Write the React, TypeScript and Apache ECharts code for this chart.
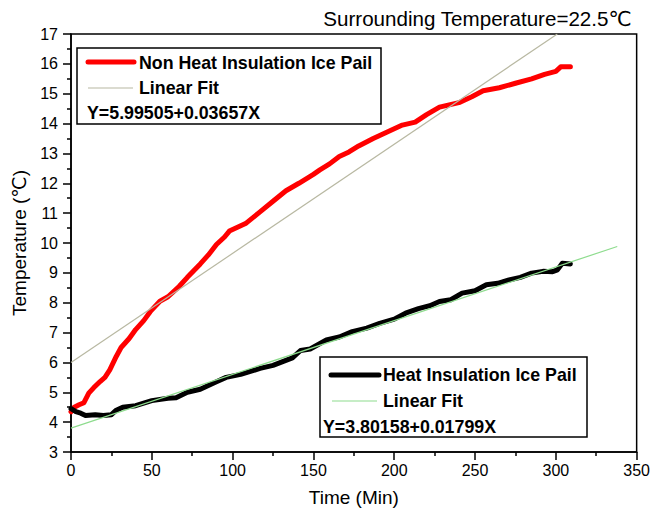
import React, { useEffect, useRef } from "react";
import * as echarts from "echarts";

const xTicks = [0, 50, 100, 150, 200, 250, 300, 350];
const yTicks = [3, 4, 5, 6, 7, 8, 9, 10, 11, 12, 13, 14, 15, 16, 17];

const redTime = [0, 2, 5, 8, 11, 14, 18, 21, 24, 28, 31, 36, 40, 45, 49, 55, 60, 67, 72, 80, 85, 90, 95, 98, 104, 108, 116, 125, 133, 141, 150, 154, 160, 166, 172, 178, 187, 197, 205, 213, 220, 228, 240, 248, 255, 265, 275, 285, 293, 300, 303, 309];
const redTemp = [4.35, 4.5, 4.58, 4.65, 4.97, 5.15, 5.36, 5.5, 5.75, 6.2, 6.5, 6.8, 7.1, 7.4, 7.7, 8.05, 8.2, 8.55, 8.85, 9.3, 9.6, 9.95, 10.2, 10.4, 10.55, 10.65, 11.0, 11.4, 11.75, 12.0, 12.3, 12.45, 12.65, 12.9, 13.05, 13.25, 13.5, 13.75, 13.95, 14.05, 14.3, 14.55, 14.7, 14.9, 15.1, 15.2, 15.35, 15.5, 15.65, 15.75, 15.9, 15.9];

const blackTime = [0, 3, 6, 9, 15, 20, 25, 28, 32, 40, 50, 60, 65, 72, 80, 90, 96, 105, 117, 125, 137, 142, 148, 158, 166, 174, 183, 191, 200, 207, 215, 222, 228, 235, 242, 250, 257, 264, 271, 278, 285, 292, 298, 301, 304, 309];
const blackTemp = [4.45, 4.35, 4.3, 4.22, 4.25, 4.22, 4.25, 4.4, 4.5, 4.55, 4.72, 4.8, 4.82, 5.0, 5.1, 5.35, 5.5, 5.6, 5.8, 5.9, 6.15, 6.4, 6.45, 6.75, 6.85, 7.03, 7.15, 7.31, 7.45, 7.65, 7.8, 7.9, 8.04, 8.1, 8.32, 8.4, 8.6, 8.65, 8.76, 8.85, 8.99, 9.05, 9.04, 9.1, 9.32, 9.3];

const redFitTime = [0, 300.9];
const redFitTemp = [5.995, 17];
const blackFitTime = [0, 338];
const blackFitTemp = [3.8016, 9.882];

const seriesNames = ["Non Heat Insulation Ice Pail", "Heat Insulation Ice Pail"];
const fitName = "Linear Fit";
const redEquation = "Y=5.99505+0.03657X";
const blackEquation = "Y=3.80158+0.01799X";
const titleText = "Surrounding Temperature=22.5\u2103";

const FONT = "'Liberation Sans', Arial, 'DejaVu Sans', sans-serif";

const zip = (a: number[], b: number[]) => a.map((v, i) => [v, b[i]]);

export default function App() {
  const ref = useRef<HTMLDivElement>(null);
  useEffect(() => {
    if (!ref.current) return;
    const chart = echarts.init(ref.current, null, { renderer: "svg" });
    const legendText = { fontFamily: FONT, fontSize: 17.8, fontWeight: "bold", fill: "#000" };
    chart.setOption({
      animation: false,
      backgroundColor: "#fff",
      grid: {
        left: 71, right: 15, top: 34, bottom: 60,
        show: true, borderColor: "#000", borderWidth: 1.5, backgroundColor: "transparent",
      },
      xAxis: {
        type: "value", min: xTicks[0], max: xTicks[xTicks.length - 1], interval: 50,
        name: "Time (Min)", nameLocation: "middle", nameGap: 36,
        nameTextStyle: { fontFamily: FONT, fontSize: 19, color: "#000" },
        axisLine: { show: true, lineStyle: { color: "#000", width: 1.5 } },
        axisTick: { show: true, inside: false, length: 8, lineStyle: { color: "#000", width: 1.5 } },
        minorTick: { show: true, splitNumber: 2, length: 4, lineStyle: { color: "#000", width: 1.5 } },
        axisLabel: { fontFamily: FONT, fontSize: 16, color: "#000", margin: 10 },
        splitLine: { show: false },
      },
      yAxis: {
        type: "value", min: yTicks[0], max: yTicks[yTicks.length - 1], interval: 1,
        name: "Temperature (\u2103)", nameLocation: "middle", nameGap: 41, nameRotate: 90,
        nameTextStyle: { fontFamily: FONT, fontSize: 19, color: "#000" },
        axisLine: { show: true, lineStyle: { color: "#000", width: 1.5 } },
        axisTick: { show: true, inside: false, length: 8, lineStyle: { color: "#000", width: 1.5 } },
        minorTick: { show: true, splitNumber: 2, length: 4, lineStyle: { color: "#000", width: 1.5 } },
        axisLabel: { fontFamily: FONT, fontSize: 16, color: "#000", margin: 13 },
        splitLine: { show: false },
      },
      series: [
        {
          name: seriesNames[0], type: "line", data: zip(redTime, redTemp), showSymbol: false,
          lineStyle: { color: "#ff0000", width: 5, join: "round", cap: "round" }, z: 2,
        },
        {
          name: seriesNames[1], type: "line", data: zip(blackTime, blackTemp), showSymbol: false,
          lineStyle: { color: "#000000", width: 5, join: "round", cap: "round" }, z: 2,
        },
        {
          name: fitName, type: "line", data: zip(redFitTime, redFitTemp), showSymbol: false,
          lineStyle: { color: "#b8b8a2", width: 1.2 }, z: 3,
        },
        {
          name: fitName + " ", type: "line", data: zip(blackFitTime, blackFitTemp), showSymbol: false,
          lineStyle: { color: "#8edc8e", width: 1.2 }, z: 3,
        },
      ],
      graphic: [
        { type: "text", right: 21, top: 8, style: { text: titleText, fontFamily: FONT, fontSize: 20.6, fill: "#000" } },
        { type: "rect", shape: { x: 77, y: 48, width: 304, height: 76 }, style: { fill: "#fff", stroke: "#000", lineWidth: 1.5 }, z: 10 },
        { type: "line", shape: { x1: 88, y1: 62, x2: 134, y2: 62 }, style: { stroke: "#ff0000", lineWidth: 5, lineCap: "round" }, z: 11 },
        { type: "text", x: 139, y: 63, style: { ...legendText, text: seriesNames[0], verticalAlign: "middle" }, z: 11 },
        { type: "line", shape: { x1: 88, y1: 88, x2: 133, y2: 88 }, style: { stroke: "#b8b8a2", lineWidth: 1.2 }, z: 11 },
        { type: "text", x: 139, y: 88, style: { ...legendText, text: fitName, verticalAlign: "middle" }, z: 11 },
        { type: "text", x: 87, y: 113, style: { ...legendText, text: redEquation, verticalAlign: "middle" }, z: 11 },

        { type: "rect", shape: { x: 320, y: 357, width: 267, height: 80 }, style: { fill: "#fff", stroke: "#000", lineWidth: 1.5 }, z: 10 },
        { type: "line", shape: { x1: 331, y1: 375, x2: 379, y2: 375 }, style: { stroke: "#000", lineWidth: 5, lineCap: "round" }, z: 11 },
        { type: "text", x: 383, y: 375, style: { ...legendText, text: seriesNames[1], verticalAlign: "middle" }, z: 11 },
        { type: "line", shape: { x1: 332, y1: 401, x2: 377, y2: 401 }, style: { stroke: "#8edc8e", lineWidth: 1.2 }, z: 11 },
        { type: "text", x: 383, y: 401, style: { ...legendText, text: fitName, verticalAlign: "middle" }, z: 11 },
        { type: "text", x: 323, y: 427, style: { ...legendText, text: blackEquation, verticalAlign: "middle" }, z: 11 },
      ],
    });
    return () => chart.dispose();
  }, []);
  return <div ref={ref} style={{ width: 653, height: 512, position: "absolute", left: 0, top: 0 }} />;
}
